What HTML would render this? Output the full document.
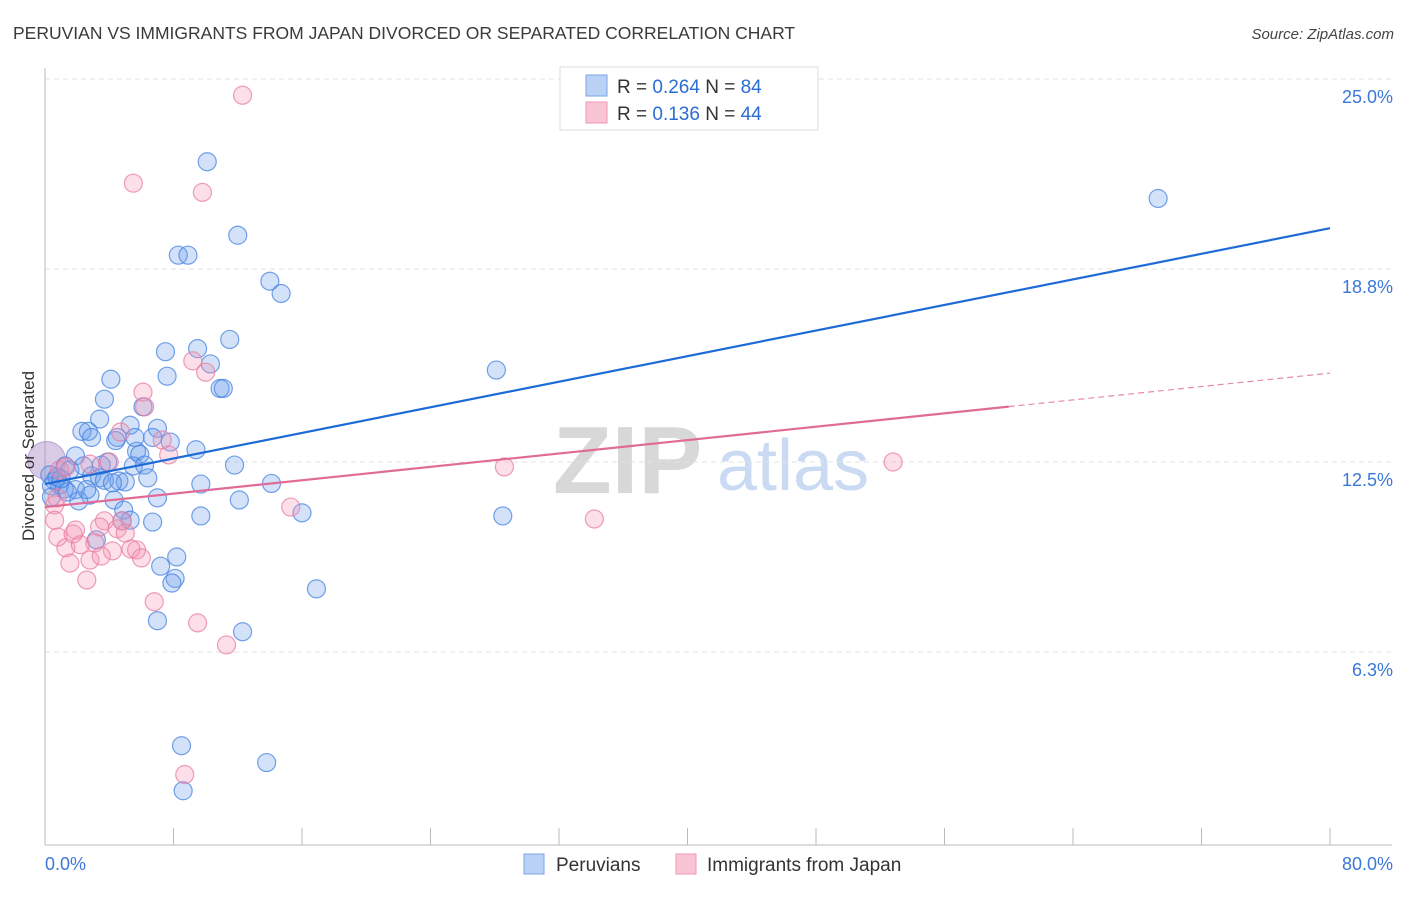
<!DOCTYPE html>
<html><head><meta charset="utf-8"><style>
body{margin:0;background:#fff;font-family:"Liberation Sans",sans-serif;}
svg text{font-family:"Liberation Sans",sans-serif;}
</style></head><body>
<svg id="chart" width="1406" height="892" xmlns="http://www.w3.org/2000/svg">
<text x="13" y="39" font-size="17.5" fill="#3a3a3a">PERUVIAN VS IMMIGRANTS FROM JAPAN DIVORCED OR SEPARATED CORRELATION CHART</text>
<text x="1394" y="39" font-size="15" fill="#444" text-anchor="end" font-style="italic">Source: ZipAtlas.com</text>
<g>
<text x="553" y="493" font-size="96" fill="#d8d8d8" font-family="Liberation Serif, serif" font-weight="bold">ZIP</text>
<text x="717" y="490" font-size="72" fill="#c9daf2">atlas</text>
</g>
<g id="grid"></g>
<g id="axes"></g>
<g id="pts"></g>
<g id="lines"></g>
<text transform="translate(34,456) rotate(-90)" font-size="17" fill="#333" text-anchor="middle">Divorced or Separated</text>
<g>
<rect x="560" y="67" width="258" height="63" fill="#fff" stroke="#ddd"/>
<rect x="586" y="75" width="21" height="21" fill="#b8d1f5" stroke="#7aa5e6"/>
<rect x="586" y="102" width="21" height="21" fill="#f9c4d4" stroke="#ee9ab5"/>
<text x="617" y="93" font-size="19" fill="#333">R = <tspan fill="#2a6dd4">0.264</tspan>   N = <tspan fill="#2a6dd4">84</tspan></text>
<text x="617" y="120" font-size="19" fill="#333">R =  <tspan fill="#2a6dd4">0.136</tspan>   N = <tspan fill="#2a6dd4">44</tspan></text>
</g>
<g>
<rect x="524" y="854" width="20" height="20" fill="#b8d1f5" stroke="#7aa5e6"/>
<text x="556" y="871" font-size="19" fill="#333">Peruvians</text>
<rect x="676" y="854" width="20" height="20" fill="#f9c4d4" stroke="#ee9ab5"/>
<text x="707" y="871" font-size="19" fill="#333">Immigrants from Japan</text>
</g>
</svg>
<script>
const yTicks=[6.3,12.5,18.8,25.0];
const yTickLabels=["6.3%","12.5%","18.8%","25.0%"];
const xTickCount=[0,8,16,24,32,40,48,56,64,72,80];
const xLabels=["0.0%","80.0%"];
const blueX=[10.1,12.0,8.3,8.9,14.0,14.7,7.5,9.5,11.5,7.6,4.1,10.9,11.1,10.3,28.1,3.7,6.1,3.4,5.3,7.0,2.3,2.7,4.5,6.7,2.9,7.8,9.4,5.7,5.9,1.9,3.9,5.5,6.2,1.25,2.4,1.55,11.8,2.9,3.4,3.7,4.6,5.0,6.4,0.6,0.9,9.7,14.1,0.4,1.9,1.2,2.8,4.3,2.1,7.0,12.1,0.4,4.9,16.0,5.3,6.7,9.7,28.5,4.8,3.2,8.2,7.2,8.1,7.9,16.9,7.0,12.3,8.5,13.8,8.6,69.3,0.3,0.75,4.4,2.6,1.4,5.6,3.5,1.0,4.2];
const blueY=[22.3,19.9,19.25,19.25,18.4,18.0,16.1,16.2,16.5,15.3,15.2,14.9,14.9,15.7,15.5,14.55,14.3,13.9,13.7,13.6,13.5,13.5,13.3,13.3,13.3,13.15,12.9,12.85,12.75,12.7,12.5,12.37,12.4,12.37,12.37,12.24,12.4,12.05,11.98,11.9,11.88,11.85,11.98,11.88,11.75,11.78,11.8,11.72,11.6,11.62,11.42,11.26,11.23,11.33,11.26,11.36,10.93,10.84,10.6,10.54,10.74,10.74,10.58,9.96,9.4,9.1,8.7,8.55,8.36,7.32,6.96,3.24,2.69,1.77,21.1,12.08,12.0,13.2,11.6,11.52,13.3,12.4,11.95,11.82];
const pinkX=[12.3,5.5,9.8,9.2,10.0,6.1,6.2,4.7,7.3,7.7,2.8,4.0,0.9,1.3,0.75,0.6,28.6,52.8,15.3,34.2,0.6,4.8,0.8,1.75,1.9,3.7,3.4,4.5,5.0,5.7,6.0,3.1,1.3,2.2,1.55,2.8,5.35,4.2,2.6,3.5,6.8,9.5,11.3,8.7];
const pinkY=[24.47,21.6,21.3,15.8,15.43,14.78,14.3,13.48,13.22,12.73,12.43,12.5,12.24,12.34,11.33,11.1,12.34,12.5,11.03,10.64,10.6,10.58,10.05,10.15,10.28,10.58,10.38,10.32,10.18,9.63,9.37,9.86,9.7,9.8,9.2,9.3,9.66,9.6,8.65,9.43,7.94,7.25,6.53,2.3];
const blueFit=[11.78,20.13];
const pinkFit=[11.03,15.40];
const pinkSolidEnd=60;

const X0=45,X1=1330,YB=845,YT=79;
function sx(v){return X0+(v/80)*(X1-X0);}
function sy(v){return YB-(v/25)*(YB-YT);}
const NS="http://www.w3.org/2000/svg";
function mk(parent,tag,attrs){const e=document.createElementNS(NS,tag);for(const k in attrs)e.setAttribute(k,attrs[k]);document.getElementById(parent).appendChild(e);return e;}

yTicks.forEach((t,i)=>{
  const g=mk('grid','line',{x1:X0,x2:1392,y1:sy(t),y2:sy(t),stroke:'#e2e2e2','stroke-dasharray':'5,4'});
  
  
  const l=mk('axes','text',{x:1393,y:sy(t)+24,'font-size':18,fill:'#3b78d8','text-anchor':'end'});
  l.textContent=yTickLabels[i];
  
  
});
const ax=mk('axes','line',{x1:X0,x2:X0,y1:68,y2:YB,stroke:'#bbb'});


const bx=mk('axes','line',{x1:X0,x2:1392,y1:YB,y2:YB,stroke:'#bbb'});


xTickCount.forEach(t=>{
  const tk=mk('axes','line',{x1:sx(t),x2:sx(t),y1:828,y2:YB,stroke:'#bbb'});
  
  
});
const xl0=mk('axes','text',{x:45,y:870,'font-size':18,fill:'#3b78d8'});xl0.textContent=xLabels[0];


const xl1=mk('axes','text',{x:1393,y:870,'font-size':18,fill:'#3b78d8','text-anchor':'end'});xl1.textContent=xLabels[1];



const big=mk('pts','circle',{cx:sx(0.1),cy:sy(12.55),r:19,fill:'rgba(170,140,200,0.45)',stroke:'rgba(150,120,190,0.6)'});


blueX.forEach((v,i)=>{
  const c=mk('pts','circle',{cx:sx(v),cy:sy(blueY[i]),r:9,fill:'rgba(110,160,235,0.3)',stroke:'rgba(70,130,225,0.75)','stroke-width':1.2});
  
  
});
pinkX.forEach((v,i)=>{
  const c=mk('pts','circle',{cx:sx(v),cy:sy(pinkY[i]),r:9,fill:'rgba(245,150,180,0.3)',stroke:'rgba(232,125,160,0.75)','stroke-width':1.2});
  
  
});
const bl=mk('lines','line',{x1:sx(0),y1:sy(blueFit[0]),x2:sx(80),y2:sy(blueFit[1]),stroke:'#1f6bd6','stroke-width':2.2});


const pm=pinkFit[0]+(pinkFit[1]-pinkFit[0])*pinkSolidEnd/80;
const pl=mk('lines','line',{x1:sx(0),y1:sy(pinkFit[0]),x2:sx(pinkSolidEnd),y2:sy(pm),stroke:'#e06b96','stroke-width':2.2});


const pd=mk('lines','line',{x1:sx(pinkSolidEnd),y1:sy(pm),x2:sx(80),y2:sy(pinkFit[1]),stroke:'#e88aa8','stroke-width':1.2,'stroke-dasharray':'6,4'});


</script>
</body></html>
